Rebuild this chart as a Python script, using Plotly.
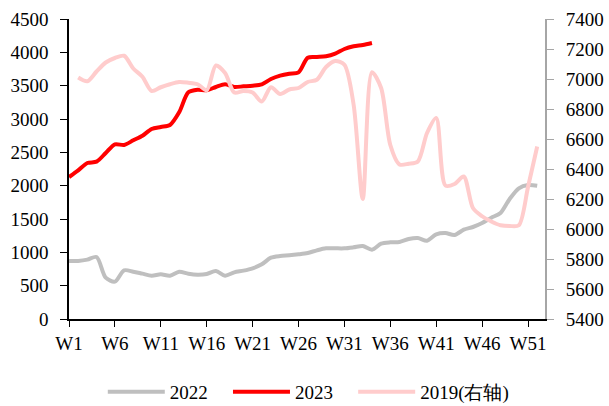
import plotly.graph_objects as go

weeks = list(range(1, 53))
tick_weeks = [1, 6, 11, 16, 21, 26, 31, 36, 41, 46, 51]
tick_labels = ["W1", "W6", "W11", "W16", "W21", "W26", "W31", "W36", "W41", "W46", "W51"]

s2022 = [870, 870, 890, 930, 620, 560, 730, 710, 680, 650,
         670, 650, 710, 680, 665, 675, 720, 650, 700, 725,
         760, 820, 920, 945, 955, 970, 990, 1030, 1060, 1060,
         1060, 1075, 1095, 1040, 1130, 1150, 1155, 1200, 1215, 1175,
         1270, 1290, 1260, 1340, 1380, 1440, 1520, 1590, 1800, 1960,
         2010, 2000]

weeks2023 = list(range(1, 35))
s2023 = [2130, 2230, 2340, 2360, 2490, 2620, 2610, 2680, 2750, 2850,
         2880, 2910, 3100, 3400, 3440, 3430, 3480, 3520, 3480, 3490,
         3500, 3520, 3600, 3650, 3680, 3700, 3920, 3930, 3940, 3980,
         4050, 4090, 4110, 4140]

weeks2019 = list(range(2, 53))
s2019 = [7010, 6985, 7050, 7110, 7140, 7155, 7070, 7015, 6920,
         6945, 6965, 6980, 6975, 6965, 6925, 7090, 7040, 6910, 6920,
         6910, 6850, 6945, 6900, 6930, 6940, 6980, 6995, 7080, 7120,
         7095, 6830, 6200, 7045, 6940, 6560, 6430, 6435, 6450, 6640,
         6740, 6290, 6300, 6350, 6140, 6085, 6050, 6025, 6020, 6025,
         6280, 6550]

FONT = "serif"
fig = go.Figure()
fig.add_trace(go.Scatter(x=weeks, y=s2022, name="2022", mode="lines", legend="legend",
                         line=dict(color="#BFBFBF", width=4, shape="spline", smoothing=0.8)))
fig.add_trace(go.Scatter(x=weeks2023, y=s2023, name="2023", mode="lines", legend="legend2",
                         line=dict(color="#FF0000", width=4, shape="spline", smoothing=0.8)))
fig.add_trace(go.Scatter(x=weeks2019, y=s2019, name="2019(右轴)", mode="lines", yaxis="y2",
                         legend="legend3",
                         line=dict(color="#FFCCCC", width=4, shape="spline", smoothing=0.8)))

leg_common = dict(orientation="h", y=-0.243, xanchor="left", yanchor="middle",
                  itemwidth=57, font=dict(size=19, family=FONT), bgcolor="rgba(0,0,0,0)")

fig.update_layout(
    width=609, height=406,
    margin=dict(l=69, r=64, t=19, b=87, autoexpand=False),
    paper_bgcolor="white", plot_bgcolor="white",
    font=dict(family=FONT, size=19, color="black"),
    xaxis=dict(range=[1, 52.85], tickmode="array", tickvals=tick_weeks, ticktext=tick_labels,
               showline=True, linecolor="black", linewidth=1.5, ticks="outside", ticklen=6,
               tickcolor="black", showgrid=False, zeroline=False,
               tickfont=dict(size=19, family=FONT), automargin=False),
    yaxis=dict(range=[0, 4500], dtick=500, showline=True, linecolor="black", linewidth=1.5,
               ticks="outside", ticklen=7, tickcolor="black", showgrid=False, zeroline=False,
               ticklabelstandoff=8, tickfont=dict(size=19, family=FONT), automargin=False),
    yaxis2=dict(range=[5400, 7400], dtick=200, overlaying="y", side="right", showline=True,
                linecolor="#A6A6A6", linewidth=2, ticks="outside", ticklen=7, tickcolor="#A6A6A6",
                showgrid=False, zeroline=False, ticklabelstandoff=8,
                tickfont=dict(size=19, family=FONT), automargin=False),
    legend=dict(x=0.071, **leg_common),
    legend2=dict(x=0.334, **leg_common),
    legend3=dict(x=0.597, **leg_common),
    showlegend=True,
)
fig.write_html("out.html", config={"displayModeBar": False},
               post_script="document.body.style.margin='0';document.body.style.padding='0';")
